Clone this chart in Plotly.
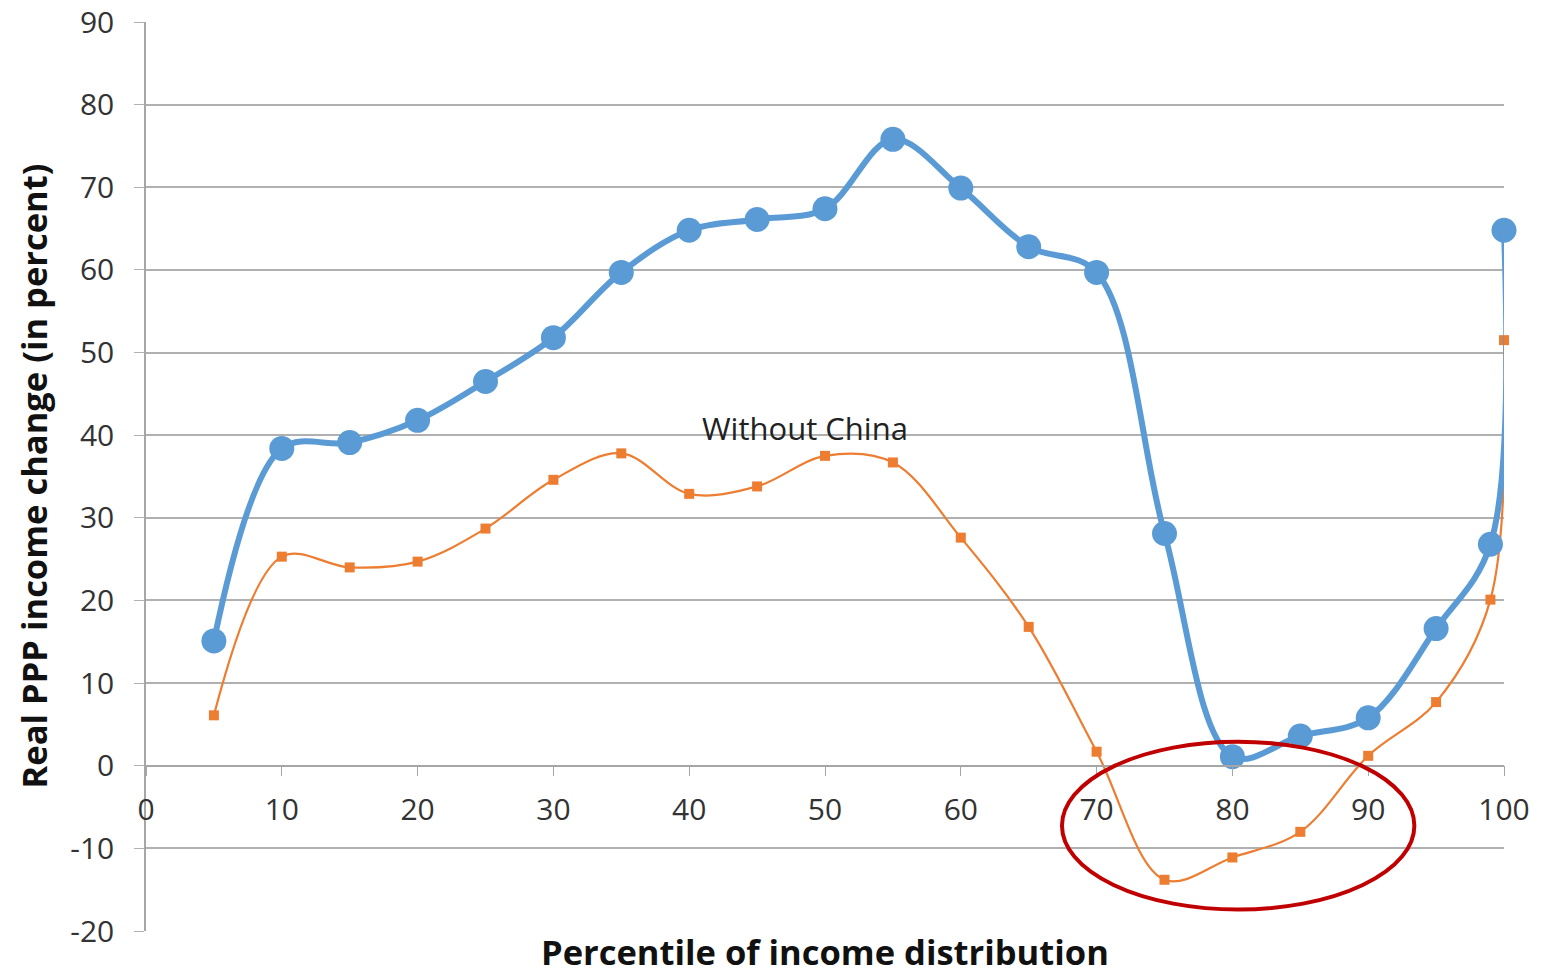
import plotly.graph_objects as go

percentiles = [5, 10, 15, 20, 25, 30, 35, 40, 45, 50, 55, 60, 65, 70, 75, 80, 85, 90, 95, 99, 100]
all_world = [15.1, 38.4, 39.1, 41.8, 46.5, 51.8, 59.7, 64.8, 66.1, 67.4, 75.8, 69.9, 62.8, 59.7, 28.1, 1.1, 3.6, 5.8, 16.6, 26.8, 64.8]
without_china = [6.1, 25.3, 24.0, 24.7, 28.7, 34.6, 37.8, 32.9, 33.8, 37.5, 36.7, 27.6, 16.8, 1.7, -13.8, -11.1, -8.0, 1.2, 7.7, 20.1, 51.5]

x_ticks = [0, 10, 20, 30, 40, 50, 60, 70, 80, 90, 100]
y_ticks = [-20, -10, 0, 10, 20, 30, 40, 50, 60, 70, 80, 90]
y_tick_labels = [str(v) for v in y_ticks]

FONT = "Open Sans"
fig = go.Figure()

fig.add_trace(go.Scatter(
    x=percentiles, y=without_china, mode="lines+markers", cliponaxis=False,
    line=dict(color="#ED7D31", width=2.2, shape="spline", smoothing=1.0),
    marker=dict(symbol="square", size=10, color="#ED7D31"),
    name="Without China", showlegend=False,
))
fig.add_trace(go.Scatter(
    x=percentiles, y=all_world, mode="lines+markers", cliponaxis=False,
    line=dict(color="#5B9BD5", width=6, shape="spline", smoothing=1.0),
    marker=dict(symbol="circle", size=25, color="#5B9BD5"),
    name="World", showlegend=False,
))

fig.add_shape(type="circle", xref="x", yref="y", x0=67.45, x1=93.4, y0=-17.4, y1=2.9,
              line=dict(color="#C00000", width=4))

fig.add_annotation(x=48.5, y=40.9, xref="x", yref="y", text="Without China", showarrow=False,
                   font=dict(family=FONT, size=31, color="#222222"))
fig.add_annotation(x=0.5, y=-0.0506, xref="paper", yref="paper", text="<b>Percentile of income distribution</b>",
                   showarrow=False, yanchor="bottom",
                   font=dict(family=FONT, size=34.5, color="#111111"))
fig.add_annotation(x=-0.0832, y=0.5, xref="paper", yref="paper", text="<b>Real PPP income change (in percent)</b>",
                   showarrow=False, textangle=-90, xanchor="center", yanchor="middle",
                   font=dict(family=FONT, size=34.5, color="#111111"))

fig.update_layout(
    width=1548, height=979,
    margin=dict(l=138, r=52, t=14, b=56),
    paper_bgcolor="white", plot_bgcolor="white",
    font=dict(family=FONT, size=30, color="#333333"),
    xaxis=dict(
        range=[0, 100], tickvals=x_ticks, ticks="outside", ticklen=10, tickcolor="#A6A6A6",
        showgrid=False, zeroline=False, showline=True, linecolor="#A6A6A6", linewidth=1.5,
        anchor="free", position=20 / 110, ticklabelstandoff=8, automargin=False,
        ticklabeloverflow="allow",
        tickfont=dict(family=FONT, size=30, color="#333333"),
    ),
    yaxis=dict(
        range=[-20, 90], tickvals=y_ticks, ticktext=y_tick_labels, ticks="outside", ticklen=10,
        tickcolor="#B0B0B0", automargin=False, ticklabeloverflow="allow",
        showgrid=True, gridcolor="#B0B0B0", gridwidth=1.5, zeroline=False,
        showline=True, linecolor="#A6A6A6", linewidth=1.5, ticklabelstandoff=14,
        tickfont=dict(family=FONT, size=30, color="#333333"),
    ),
)

fig.write_html("out.html")
